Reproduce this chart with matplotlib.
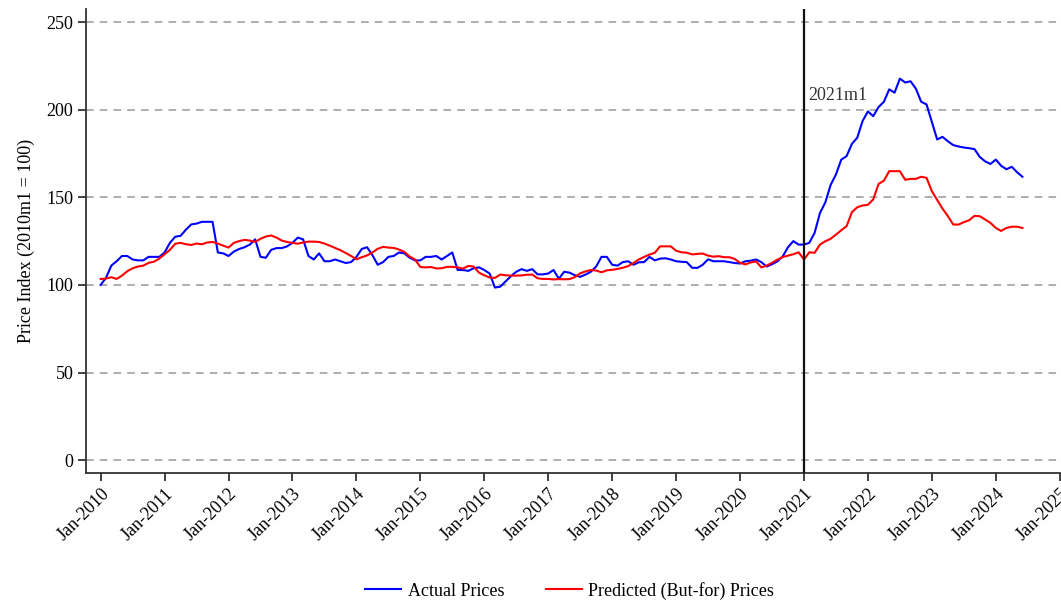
import numpy as np
import matplotlib
matplotlib.use("Agg")
import matplotlib.pyplot as plt

plt.rcParams['font.family'] = ['Liberation Serif', 'DejaVu Serif']

# Monthly price indices, Jan-2010 through Jun-2024 (2010m1 = 100)
start_year = 2010
actual_prices = [
    100, 104, 111, 113.5, 116.5, 116.5, 114.5, 114, 114, 116, 116, 116,
    118.5, 124, 127.5, 128, 131.5, 134.5, 135, 136, 136, 136, 118.5, 118,
    116.5, 119, 120.5, 121.5, 123, 126, 116, 115.5, 120, 121, 121, 122,
    124, 127, 126, 116.5, 114.5, 118, 113.5, 113.5, 114.5, 113.5, 112.5, 113,
    116, 120.5, 121.5, 117, 111.5, 113, 116, 116.5, 118.5, 118, 115.5, 114,
    114, 116, 116, 116.5, 114.5, 116.5, 118.5, 108.5, 108.5, 108, 109.5, 110,
    108.5, 106.5, 98.5, 99, 102, 105, 107.5, 109, 108, 109, 106, 106,
    106.5, 108.5, 103.5, 107.5, 107, 105.5, 104.6, 105.9, 107.5, 110.5, 116, 116,
    111.5, 111, 113, 113.5, 111.5, 112.9, 113, 116, 114, 115, 115.2, 114.5,
    113.5, 113.2, 113, 109.8, 109.7, 111.5, 114.6, 113.5, 113.5, 113.5, 113, 112.5,
    112.2, 113.5, 113.8, 114.5, 113, 110.5, 111.8, 113.4, 116.2, 121.5, 125, 123,
    123, 124, 129.7, 141, 147, 157, 163, 171.5, 173.5, 180.5, 184, 193.5,
    199, 196.3, 201.5, 204.5, 211.6, 209.7, 217.7, 215.5, 216.2, 212, 204.5, 203,
    193, 183, 184.5, 182, 179.8, 179, 178.4, 178, 177.5, 173, 170.5, 169,
    171.5, 168, 166, 167.4, 164.3, 161.7,
]
predicted_prices = [
    103.4, 103.6, 104.4, 103.4, 105.3, 107.8, 109.5, 110.5, 111, 112.6, 113.2, 115,
    117.5, 120, 123.5, 124, 123.2, 122.8, 123.6, 123.2, 124.2, 124.5, 123.6, 122.4,
    121.3, 124, 125, 125.7, 125.3, 124.5, 126.3, 127.6, 128.2, 127, 125.3, 124.5,
    124, 123.5, 124.2, 124.7, 124.7, 124.5, 123.6, 122.4, 121.1, 119.8, 118.2, 116.5,
    114.6, 115.8, 116.8, 118.5, 120.6, 121.7, 121.3, 121.1, 120.2, 118.8, 116.2, 114.5,
    110.2, 110, 110.2, 109.4, 109.5, 110.3, 110.3, 110, 109.3, 110.8, 110.5, 107,
    105.5, 104.2, 104, 105.9, 105.5, 105.3, 105.3, 105.4, 105.8, 105.9, 103.8, 103.4,
    103.4, 103.1, 103.3, 103.2, 103.3, 104.4, 106.6, 107.7, 108.5, 108.2, 107.2, 108.3,
    108.6, 109.1, 109.8, 110.7, 112.5, 114.5, 116, 117.3, 118.3, 122, 122, 122,
    119.5, 118.6, 118.4, 117.4, 117.7, 117.9, 116.7, 116.1, 116.4, 115.8, 115.8, 114.8,
    112.6, 111.7, 112.8, 113.4, 110, 111, 112.6, 114.4, 115.9, 116.7, 117.5, 118.6,
    114.5, 118.6, 118.3, 123, 124.9, 126.3, 128.7, 131.2, 133.5, 141.5, 144.3, 145.3,
    145.7, 148.8, 157.6, 159.5, 164.9, 164.9, 164.9, 160, 160.5, 160.5, 161.7, 161.1,
    153.5, 148.5, 143.5, 139.3, 134.5, 134.4, 135.8, 136.9, 139.4, 139.2, 137.3, 135.4,
    132.5, 130.8, 132.5, 133.2, 133.2, 132.5,
]
tick_years = list(range(2010, 2026))
tick_labels = [f"Jan-{y}" for y in tick_years]
y_ticks = [0, 50, 100, 150, 200, 250]
break_year = 2021
break_label = "2021m1"

months = np.arange(len(actual_prices))
x = start_year + months / 12.0

fig = plt.figure(figsize=(10.61, 6.05), dpi=100)
ax = fig.add_axes([0.081, 0.218, 0.919, 0.767])

ax.plot(x, actual_prices, color="#0000FF", lw=1.5, label="Actual Prices", zorder=3)
ax.plot(x, predicted_prices, color="#FF0000", lw=1.5, label="Predicted (But-for) Prices", zorder=3)

ax.axvline(break_year, color="#111111", lw=1.6, zorder=4)
ax.text(break_year + 0.06, 203, break_label, fontsize=13, color="#333333",
        ha="left", va="bottom")

ax.set_xlim(2009.77, 2025.02)
ax.set_ylim(-7.4, 257.4)
ax.set_xticks(tick_years)
ax.set_xticklabels(tick_labels, rotation=45, ha="right", rotation_mode="anchor",
                   fontsize=13)
ax.set_yticks(y_ticks)
ax.set_yticklabels([str(v) for v in y_ticks], fontsize=13)
ax.tick_params(axis="both", direction="out", length=6, width=1.3, color="#333333")
ax.tick_params(axis="x", pad=3)
ax.tick_params(axis="y", pad=3)

for v in y_ticks:
    ax.axhline(v, color="#999999", lw=1.1, ls=(0, (5, 4)), zorder=1)

for side in ("top", "right"):
    ax.spines[side].set_visible(False)
for side in ("left", "bottom"):
    ax.spines[side].set_color("#333333")
    ax.spines[side].set_linewidth(1.3)

ax.set_ylabel("Price Index (2010m1 = 100)", fontsize=13, labelpad=8)

fig.legend(loc="lower center", bbox_to_anchor=(0.537, -0.018), ncol=2, frameon=False,
           fontsize=13, handlelength=2.0, handletextpad=0.35, columnspacing=2.3)

fig.savefig("out.png", dpi=100)
